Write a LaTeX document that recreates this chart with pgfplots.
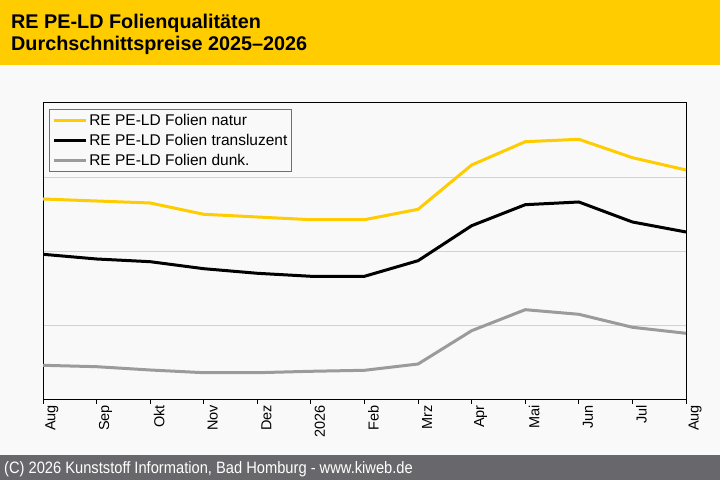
\documentclass[border=0pt]{standalone}
\usepackage{pgfplots}
\pgfplotsset{compat=1.18}
\usepackage{fontspec}
\setmainfont{Liberation Sans}
\definecolor{hdr}{RGB}{255,204,0}
\definecolor{bg}{RGB}{249,249,249}
\definecolor{ftr}{RGB}{104,104,108}
\definecolor{grd}{RGB}{210,210,210}
\definecolor{gline}{RGB}{155,155,155}
\definecolor{lbord}{RGB}{112,112,112}
\begin{document}
\begin{tikzpicture}[x=1bp,y=1bp]
\fill[bg] (0,0) rectangle (720,480);
\fill[hdr] (0,414.5) rectangle (720,480);
\fill[ftr] (0,0) rectangle (720,25);
\node[anchor=base west,inner sep=0pt,font=\bfseries\fontsize{19.8bp}{19.8bp}\selectfont] at (11,451.3) {RE PE-LD Folienqualitäten};
\node[anchor=base west,inner sep=0pt,font=\bfseries\fontsize{19.8bp}{19.8bp}\selectfont] at (11,429) {Durchschnittspreise 2025–2026};
\node[anchor=base west,inner sep=0pt,text=white,font=\fontsize{16.5bp}{16.5bp}\selectfont,xscale=0.89] at (4,6.7) {(C) 2026 Kunststoff Information, Bad Homburg - www.kiweb.de};
\begin{axis}[
  at={(43bp,80bp)}, anchor=south west,
  scale only axis, width=643bp, height=297bp,
  xmin=0, xmax=12, ymin=0, ymax=297,
  axis line style={black, line width=1bp},
  xtick={0,...,12},
  xticklabels={Aug,Sep,Okt,Nov,Dez,2026,Feb,Mrz,Apr,Mai,Jun,Jul,Aug},
  xtick align=outside, xtick pos=bottom,
  major tick length=4bp,
  tick style={black, line width=1bp},
  xticklabel style={rotate=90, anchor=east, font=\fontsize{14.5bp}{14.5bp}\selectfont, inner sep=0pt, yshift=-9bp, xshift=-1bp},
  ytick={74.25,148.5,222.75}, yticklabels={},
  ytick style={draw=none},
  ymajorgrids, grid style={grd, line width=1bp},
  legend style={at={(0.0098,0.9798)}, anchor=north west, draw=lbord, fill=bg, line width=1bp,
    font=\fontsize{15.5bp}{15.5bp}\selectfont, inner sep=2.5bp, row sep=3.5bp,
    legend cell align=left},
  legend image code/.code={\draw[#1, line width=3bp] (0bp,0bp) -- (32bp,0bp);},
  every axis plot/.append style={line width=3bp, line join=round},
]
\addplot[hdr, mark=none] coordinates {(0,201) (1,199) (2,197) (3,185.7) (4,183) (5,180.3) (6,180.3) (7,190.7) (8,235) (9,258.3) (10,260.7) (11,242.3) (12,230)};
\addplot[black, mark=none] coordinates {(0,145.7) (1,141) (2,138.3) (3,131.3) (4,126.7) (5,123.7) (6,123.7) (7,139.3) (8,174.3) (9,195.3) (10,198) (11,178) (12,168)};
\addplot[gline, mark=none] coordinates {(0,34.7) (1,33.3) (2,30) (3,27.3) (4,27.3) (5,28.7) (6,29.7) (7,36) (8,69.3) (9,90.3) (10,85.7) (11,72.7) (12,66.7)};
\legend{RE PE-LD Folien natur, RE PE-LD Folien transluzent, RE PE-LD Folien dunk.}
\end{axis}
\end{tikzpicture}
\end{document}
